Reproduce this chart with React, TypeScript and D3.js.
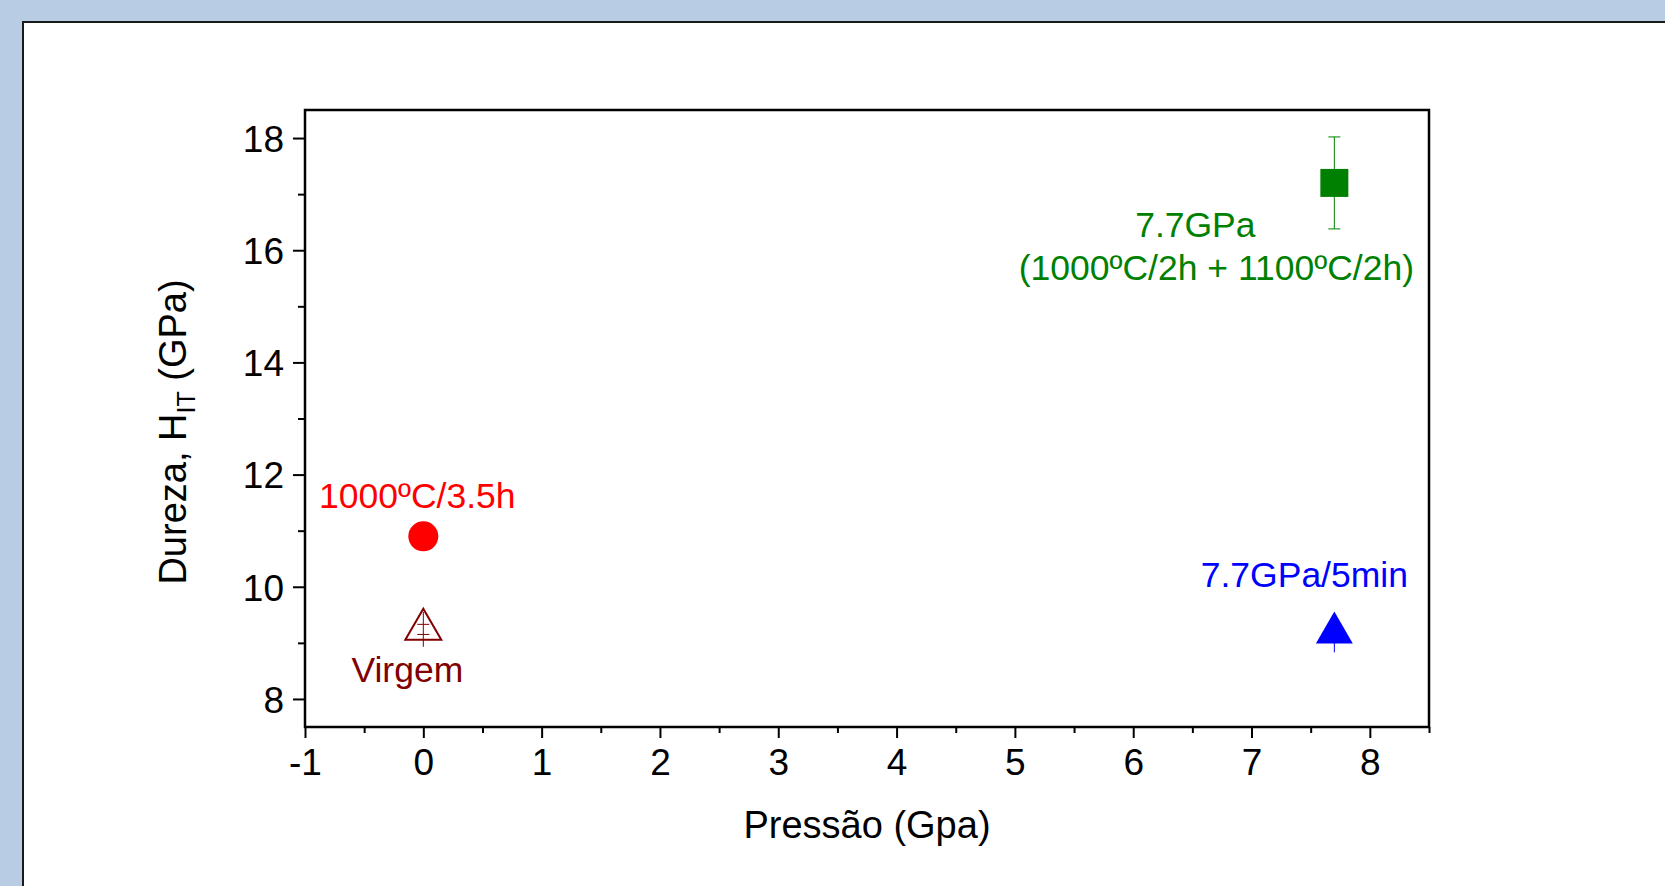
import React, { useEffect, useRef } from 'react';
import * as d3 from 'd3';

// data
const pressures = [0, 0, 7.7, 7.7];
const hardness = [10.9, 9.24, 17.2, 9.18];
const errors = [0, 0.31, 0.82, 0.35];
const sampleNames = ['1000ºC/3.5h', 'Virgem', '7.7GPa (1000ºC/2h + 1100ºC/2h)', '7.7GPa/5min'];
const xTicks = [-1, 0, 1, 2, 3, 4, 5, 6, 7, 8];
const yTicks = [8, 10, 12, 14, 16, 18];

const FONT = '"Liberation Sans", Arial, sans-serif';

const App = () => {
  const ref = useRef<SVGSVGElement>(null);

  useEffect(() => {
    const W = 1665, H = 886;
    const margin = { top: 110, right: 236, bottom: 159, left: 305 };
    const svg = d3.select(ref.current);
    svg.selectAll('*').remove();

    // background panel
    svg.append('rect').attr('width', W).attr('height', H).attr('fill', '#b8cce4');
    svg.append('rect').attr('x', 23).attr('y', 22).attr('width', W).attr('height', H)
      .attr('fill', '#fff').attr('stroke', '#1a1a1a').attr('stroke-width', 2);

    const x = d3.scaleLinear().domain([-1, 8.5]).range([margin.left, W - margin.right]);
    const y = d3.scaleLinear().domain([7.5, 18.5]).range([H - margin.bottom, margin.top]);

    const g = svg.append('g');

    // x axis
    const xAxis = g.append('g').attr('transform', `translate(0,${y(7.5)})`)
      .call(d3.axisBottom(x).tickValues(xTicks).tickFormat(d => String(d)).tickSize(11).tickSizeOuter(0));
    xAxis.selectAll('text').attr('font-size', 37).attr('font-family', FONT).attr('fill', '#000').attr('dy', 0).attr('y', 48);
    g.append('g').attr('transform', `translate(0,${y(7.5)})`)
      .call(d3.axisBottom(x).tickValues(d3.range(-0.5, 8.51, 1)).tickFormat(() => '').tickSize(6).tickSizeOuter(0))
      .call(a => a.select('.domain').remove());

    // y axis
    const yAxis = g.append('g').attr('transform', `translate(${x(-1)},0)`)
      .call(d3.axisLeft(y).tickValues(yTicks).tickFormat(d => String(d)).tickSize(12).tickSizeOuter(0));
    yAxis.selectAll('text').attr('font-size', 37).attr('font-family', FONT).attr('fill', '#000').attr('x', -21).attr('dy', '0.36em');
    g.append('g').attr('transform', `translate(${x(-1)},0)`)
      .call(d3.axisLeft(y).tickValues([9, 11, 13, 15, 17]).tickFormat(() => '').tickSize(7).tickSizeOuter(0))
      .call(a => a.select('.domain').remove());

    g.selectAll('.tick line').attr('stroke', '#000').attr('stroke-width', 2);
    g.selectAll('.domain').remove();

    // frame
    g.append('rect').attr('x', x(-1)).attr('y', y(18.5))
      .attr('width', x(8.5) - x(-1)).attr('height', y(7.5) - y(18.5))
      .attr('fill', 'none').attr('stroke', '#000').attr('stroke-width', 2.5);

    // axis titles
    g.append('text').attr('x', (x(-1) + x(8.5)) / 2).attr('y', 838)
      .attr('text-anchor', 'middle').attr('font-size', 38).attr('font-family', FONT)
      .text('Pressão (Gpa)');
    const yt = g.append('text').attr('transform', `translate(186,432) rotate(-90)`)
      .attr('text-anchor', 'middle').attr('font-size', 38).attr('font-family', FONT);
    yt.append('tspan').text('Dureza, H');
    yt.append('tspan').attr('font-size', 25).attr('dy', 9).text('IT');
    yt.append('tspan').attr('dy', -9).text(' (GPa)');

    const pts = pressures.map((p, i) => ({ p, h: hardness[i], e: errors[i], name: sampleNames[i] }));

    // error bars
    const errColors = ['#ff0000', '#800000', '#008000', '#0000ff'];
    const capW = [0, 6, 6, 0];
    pts.forEach((d, i) => {
      if (!d.e) return;
      const cx = x(d.p);
      g.append('line').attr('x1', cx).attr('x2', cx).attr('y1', y(d.h - d.e)).attr('y2', y(d.h + d.e))
        .attr('stroke', errColors[i]).attr('stroke-width', 1);
      if (capW[i]) {
        const lo = i === 1 ? d.h - 0.09 : d.h - d.e;
        const hi = i === 1 ? d.h + 0.09 : d.h + d.e;
        [lo, hi].forEach(v => g.append('line').attr('x1', cx - capW[i]).attr('x2', cx + capW[i])
          .attr('y1', y(v)).attr('y2', y(v)).attr('stroke', errColors[i]).attr('stroke-width', 1));
      }
    });

    // markers
    const sym = [
      { type: d3.symbolCircle, size: 707, fill: '#ff0000', stroke: 'none' },
      { type: d3.symbolTriangle, size: 560, fill: 'none', stroke: '#800000' },
      { type: d3.symbolSquare, size: 784, fill: '#008000', stroke: 'none' },
      { type: d3.symbolTriangle, size: 590, fill: '#0000ff', stroke: 'none' },
    ];
    pts.forEach((d, i) => {
      g.append('path').attr('transform', `translate(${x(d.p)},${y(d.h)})`)
        .attr('d', d3.symbol(sym[i].type, sym[i].size)())
        .attr('fill', sym[i].fill).attr('stroke', sym[i].stroke).attr('stroke-width', 2);
    });

    // annotations
    const label = (i: number, txt: string, dx: number, dy: number, color: string) =>
      g.append('text').attr('x', x(pts[i].p) + dx).attr('y', y(pts[i].h) + dy)
        .attr('text-anchor', 'middle').attr('font-size', 35.5).attr('font-family', FONT)
        .attr('fill', color).text(txt);
    label(0, sampleNames[0], -6, -28, '#ff0000');
    label(1, sampleNames[1], -16, 53, '#800000');
    const [l1, ...rest] = sampleNames[2].split(' ');
    label(2, l1, -139, 54, '#008000');
    label(2, rest.join(' '), -118, 97, '#008000');
    label(3, sampleNames[3], -30, -46, '#0000ff');
  }, []);

  return (
    <svg ref={ref} width={1665} height={886} style={{ position: 'absolute', left: 0, top: 0 }} />
  );
};

export default App;
